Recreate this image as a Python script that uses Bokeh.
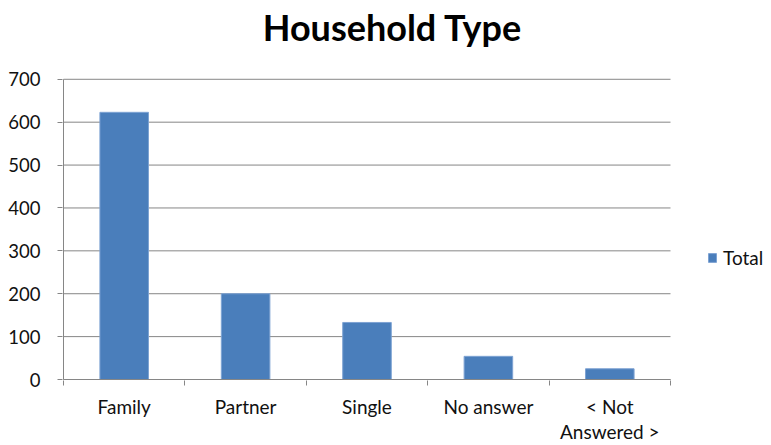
from bokeh.plotting import figure
from bokeh.models import (ColumnDataSource, FixedTicker, Range1d, Legend,
                          LegendItem, Label)
from bokeh.embed import file_html
from bokeh.resources import INLINE

# Household type counts
categories = ["Family", "Partner", "Single", "No answer", "< Not\nAnswered >"]
totals = [623, 200, 133, 54, 25]
y_ticks = [0, 100, 200, 300, 400, 500, 600, 700]

FONT = "Lato"
BAR_COLOR = "#4A7EBB"
AXIS_COLOR = "#868686"
TEXT_COLOR = "#111111"

W, H = 771, 445
LEFT, BOTTOM = 62, 64          # space for the axes
PX_PER_CAT = 121.4             # horizontal pixels per category slot
PX_PER_UNIT = 0.43             # vertical pixels per household

# The frame covers the whole canvas right of / above the axes, so the title
# and legend can live inside it; the value area itself is 0..5 x 0..700.
frame_w = W - LEFT
frame_h = H - BOTTOM
x0 = -1 / PX_PER_CAT
y0 = -1 / PX_PER_UNIT
n = len(categories)
y_max = y_ticks[-1]

centers = [i + 0.5 for i in range(n)]
source = ColumnDataSource(dict(x=centers, top=totals, cat=categories))

p = figure(width=W, height=H, output_backend="svg", toolbar_location=None,
           x_range=Range1d(x0, x0 + frame_w / PX_PER_CAT),
           y_range=Range1d(y0, y0 + frame_h / PX_PER_UNIT),
           min_border_left=LEFT, min_border_right=0, min_border_top=0,
           min_border_bottom=BOTTOM)
p.outline_line_color = None
p.background_fill_color = "white"
p.border_fill_color = "white"
p.xgrid.grid_line_color = None
p.ygrid.grid_line_color = None

# horizontal gridlines across the value area
p.segment(x0=[0] * len(y_ticks), x1=[n] * len(y_ticks), y0=y_ticks, y1=y_ticks,
          line_color=AXIS_COLOR, line_width=1)

bars = p.vbar(x="x", top="top", width=0.4, source=source, fill_color=BAR_COLOR,
              line_color="#7EA3D3", line_width=1)

# axis lines of the value area
p.segment(x0=[0, 0], x1=[0, n], y0=[0, 0], y1=[y_max, 0],
          line_color=AXIS_COLOR, line_width=1)

# y axis
p.yaxis.ticker = FixedTicker(ticks=y_ticks)
p.yaxis.axis_line_color = None
p.yaxis.major_tick_line_color = AXIS_COLOR
p.yaxis.major_tick_out = 5
p.yaxis.major_tick_in = 0
p.yaxis.minor_tick_line_color = None
p.yaxis.major_label_text_font = FONT
p.yaxis.major_label_text_font_size = "18.5px"
p.yaxis.major_label_text_color = TEXT_COLOR
p.yaxis.major_label_standoff = 17

# x axis: labels at bar centres, tick marks between categories
p.xaxis.ticker = FixedTicker(ticks=centers, minor_ticks=list(range(n + 1)))
p.xaxis.major_label_overrides = {c: lab for c, lab in zip(centers, categories)}
p.xaxis.axis_line_color = None
p.xaxis.major_tick_line_color = None
p.xaxis.major_tick_out = 0
p.xaxis.major_tick_in = 0
p.xaxis.minor_tick_line_color = AXIS_COLOR
p.xaxis.minor_tick_out = 5
p.xaxis.minor_tick_in = 0
p.xaxis.major_label_text_font = FONT
p.xaxis.major_label_text_font_size = "19px"
p.xaxis.major_label_text_line_height = 1.1
p.xaxis.major_label_text_color = TEXT_COLOR
p.xaxis.major_label_standoff = 9

# title
p.add_layout(Label(x=392 - LEFT, y=frame_h - 27, x_units="screen",
                   y_units="screen", text="Household Type", text_font=FONT,
                   text_font_size="36px", text_font_style="bold",
                   text_align="center", text_baseline="alphabetic",
                   text_color="#000000"))

legend = Legend(items=[LegendItem(label="Total", renderers=[bars])],
                location=(707 - LEFT, 111), padding=0, margin=0,
                glyph_width=10, glyph_height=11, label_standoff=6,
                label_text_font=FONT, label_text_font_size="19px",
                label_text_color=TEXT_COLOR,
                border_line_color=None, background_fill_alpha=0)
p.add_layout(legend)

open("out.html", "w").write(file_html(p, INLINE))
